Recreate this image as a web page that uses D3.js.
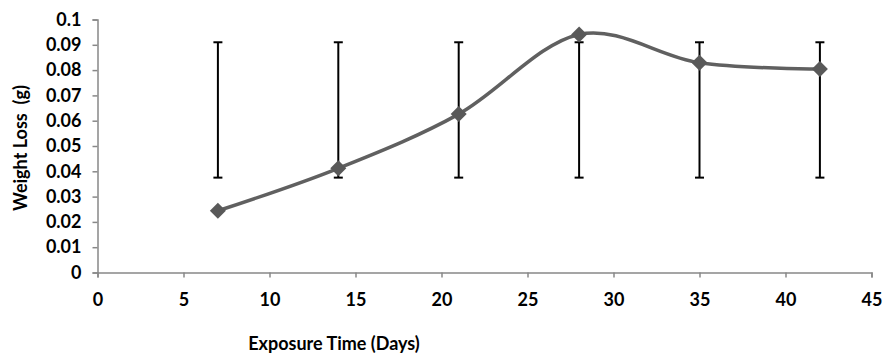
<!DOCTYPE html>
<html>
<head>
<meta charset="utf-8">
<script src="https://cdn.jsdelivr.net/npm/d3@7"></script>
<style>
body { margin: 0; background: #fff; }
text { font-family: Lato, "Open Sans", sans-serif; font-weight: bold; fill: #000; }
</style>
</head>
<body>
<script>
var w = 895;
var h = 356;

// data
var days = [7, 14, 21, 28, 35, 42];
var weightLoss = [0.0244, 0.0412, 0.0626, 0.0941, 0.0829, 0.0804];
var errLow = [0.0375, 0.0375, 0.0375, 0.0375, 0.0375, 0.0375];
var errHigh = [0.0910, 0.0910, 0.0910, 0.0910, 0.0910, 0.0910];
var xTicks = [0, 5, 10, 15, 20, 25, 30, 35, 40, 45];
var yTicks = [0, 0.01, 0.02, 0.03, 0.04, 0.05, 0.06, 0.07, 0.08, 0.09, 0.1];

var padL = 97.5, padR = 871.5, padT = 19.5, padB = 272.5;

var xScale = d3.scaleLinear().domain([0, 45]).range([padL, padR]);
var yScale = d3.scaleLinear().domain([0, 0.1]).range([padB, padT]);

var svg = d3.select("body")
            .append("svg")
            .attr("width", w)
            .attr("height", h);

// y axis
var yAxis = svg.append("g")
    .attr("transform", "translate(" + padL + ",0)")
    .call(d3.axisLeft(yScale).tickValues(yTicks).tickSize(5).tickSizeOuter(5)
        .tickFormat(function(d) { return String(+d.toFixed(2)); }));
yAxis.select(".domain").attr("stroke", "#888").attr("stroke-width", 1.5);
yAxis.selectAll("line").attr("stroke", "#888").attr("stroke-width", 1.5);
yAxis.selectAll("text").attr("x", -16).style("font-size", "18px");

// x axis
var xAxis = svg.append("g")
    .attr("transform", "translate(0," + padB + ")")
    .call(d3.axisBottom(xScale).tickValues(xTicks).tickSize(5).tickSizeOuter(5));
xAxis.select(".domain").attr("stroke", "#888").attr("stroke-width", 1.5);
xAxis.selectAll("line").attr("stroke", "#888").attr("stroke-width", 1.5);
xAxis.selectAll("text").attr("y", 21).style("font-size", "18px");

// axis titles
svg.append("text")
    .attr("x", 334)
    .attr("y", 350)
    .attr("text-anchor", "middle")
    .style("font-size", "18px")
    .text("Exposure Time (Days)");

svg.append("text")
    .attr("transform", "translate(27,148) rotate(-90)")
    .attr("text-anchor", "middle")
    .style("font-size", "18px")
    .style("white-space", "pre")
    .text("Weight Loss  (g)");

var pts = days.map(function(d, i) { return [d, weightLoss[i]]; });

// smoothed line
var line = d3.line()
    .x(function(d) { return xScale(d[0]); })
    .y(function(d) { return yScale(d[1]); })
    .curve(d3.curveCardinal.tension(0));

svg.append("path")
    .datum(pts)
    .attr("d", line)
    .attr("fill", "none")
    .attr("stroke", "#606060")
    .attr("stroke-width", 3.5);

// error bars
var eb = svg.selectAll(".eb")
    .data(days)
    .enter()
    .append("g")
    .attr("class", "eb");
eb.append("line")
    .attr("x1", function(d) { return xScale(d); })
    .attr("x2", function(d) { return xScale(d); })
    .attr("y1", function(d, i) { return yScale(errLow[i]); })
    .attr("y2", function(d, i) { return yScale(errHigh[i]); })
    .attr("stroke", "#000")
    .attr("stroke-width", 2);
eb.append("line")
    .attr("x1", function(d) { return xScale(d) - 4.5; })
    .attr("x2", function(d) { return xScale(d) + 4.5; })
    .attr("y1", function(d, i) { return yScale(errHigh[i]); })
    .attr("y2", function(d, i) { return yScale(errHigh[i]); })
    .attr("stroke", "#000")
    .attr("stroke-width", 2);
eb.append("line")
    .attr("x1", function(d) { return xScale(d) - 4.5; })
    .attr("x2", function(d) { return xScale(d) + 4.5; })
    .attr("y1", function(d, i) { return yScale(errLow[i]); })
    .attr("y2", function(d, i) { return yScale(errLow[i]); })
    .attr("stroke", "#000")
    .attr("stroke-width", 2);

// diamond markers
svg.selectAll(".pt")
    .data(pts)
    .enter()
    .append("path")
    .attr("class", "pt")
    .attr("d", "M0,-8L8,0L0,8L-8,0Z")
    .attr("transform", function(d) { return "translate(" + xScale(d[0]) + "," + yScale(d[1]) + ")"; })
    .attr("fill", "#595959");
</script>
</body>
</html>
